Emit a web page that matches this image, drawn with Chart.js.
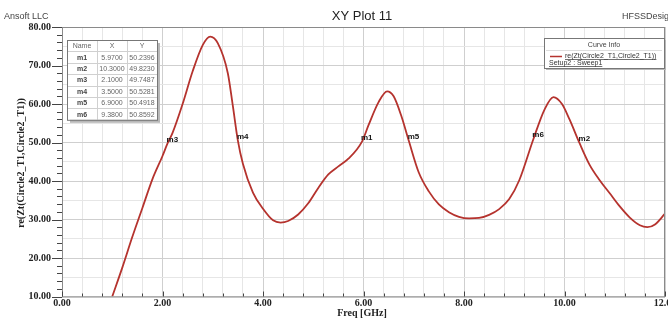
<!DOCTYPE html>
<html>
<head>
<meta charset="utf-8">
<script src="https://cdn.jsdelivr.net/npm/chart.js@4/dist/chart.umd.min.js"></script>
<style>
  html, body { margin: 0; padding: 0; background: #fff; }
  #wrap { width: 668px; height: 320px; }
</style>
</head>
<body>
<div id="wrap"><canvas id="plot" width="668" height="320"></canvas></div>
<script>
// curve re(Zt(Circle2_T1,Circle2_T1))
const freq = [1.0, 1.2, 1.4, 1.6, 1.8, 2.0, 2.1, 2.2, 2.4, 2.6, 2.8, 2.95, 3.1, 3.3, 3.4, 3.5, 3.6, 3.8, 4.0, 4.2, 4.35,
              4.5, 4.7, 4.9, 5.1, 5.3, 5.5, 5.7, 5.97, 6.1, 6.3, 6.47, 6.6, 6.75, 6.9, 7.1, 7.3, 7.5, 7.7, 7.9,
              8.1, 8.3, 8.5, 8.7, 8.9, 9.1, 9.38, 9.6, 9.78, 9.95, 10.1, 10.3, 10.5, 10.7, 10.9, 11.1, 11.3,
              11.5, 11.65, 11.8, 12.0];
const reZ = [10.0, 17.5, 25.5, 33.0, 40.5, 46.5, 49.75, 52.5, 60.0, 68.5, 75.3, 77.5, 75.8, 68.0, 59.5, 50.5, 44.5, 37.0, 32.8, 29.8, 29.2,
             29.6, 31.3, 34.2, 38.2, 41.7, 43.8, 45.8, 50.24, 54.5, 60.5, 63.3, 62.0, 57.0, 50.5, 42.2, 37.3, 33.9, 31.9, 30.7,
             30.3, 30.4, 31.2, 32.7, 35.3, 40.2, 50.86, 58.5, 61.8, 60.0, 56.0, 49.82, 44.2, 40.2, 36.8, 33.4, 30.5,
             28.5, 28.0, 28.7, 31.5];

// markers
const markerNames = ['m1', 'm2', 'm3', 'm4', 'm5', 'm6'];
const markerFreq = [5.97, 10.3, 2.1, 3.5, 6.9, 9.38];
const markerValue = [50.2396, 49.8230, 49.7487, 50.5281, 50.4918, 50.8592];

const yTickLabels = [10, 20, 30, 40, 50, 60, 70, 80];
const xTickLabels = [0, 2, 4, 6, 8, 10, 12];

const serif = '"Liberation Serif", "Times New Roman", serif';
const sans = '"Liberation Sans", Arial, sans-serif';

function isMult(v, m) {
    return Math.abs(v / m - Math.round(v / m)) < 1e-6;
}

const decor = {
    id: 'decor',
    beforeDraw(chart) {
        const c = chart.ctx;
        c.save();
        c.fillStyle = '#fff';
        c.fillRect(0, 0, chart.width, chart.height);
        c.restore();
    },
    afterDraw(chart) {
        const c = chart.ctx;
        const a = chart.chartArea;
        const xs = chart.scales.x, ys = chart.scales.y;
        c.save();

        // plot frame
        c.strokeStyle = '#8a8a8a';
        c.lineWidth = 1;
        c.strokeRect(a.left + 0.5, a.top + 0.5, a.right - a.left - 1, a.bottom - a.top);

        // axis ticks
        c.strokeStyle = '#444';
        c.beginPath();
        for (let v = 10; v <= 80.001; v += 2) {
            const y = Math.round(ys.getPixelForValue(v)) + 0.5;
            const len = isMult(v, 10) ? 10 : 5;
            c.moveTo(a.left - len, y);
            c.lineTo(a.left, y);
        }
        for (let i = 0; i <= 30; i++) {
            const v = i * 0.4;
            const x = Math.round(xs.getPixelForValue(v)) + 0.5;
            const len = isMult(v, 2) ? 5 : 3;
            c.moveTo(x, a.bottom);
            c.lineTo(x, a.bottom - len);
        }
        c.stroke();

        // x tick labels
        c.fillStyle = '#222';
        c.font = 'bold 10px ' + serif;
        c.textAlign = 'center';
        c.textBaseline = 'middle';
        xTickLabels.forEach(v => {
            c.fillText(v.toFixed(2), xs.getPixelForValue(v), 303);
        });
        c.fillText('Freq [GHz]', 362, 313);

        // y title
        c.save();
        c.translate(21, 163);
        c.rotate(-Math.PI / 2);
        c.fillText('re(Zt(Circle2_T1,Circle2_T1))', 0, 0);
        c.restore();

        // header texts
        c.font = '9px ' + sans;
        c.fillStyle = '#444';
        c.textAlign = 'left';
        c.fillText('Ansoft LLC', 4, 17);
        c.fillText('HFSSDesign1', 622, 17);
        c.font = '13px ' + sans;
        c.fillStyle = '#222';
        c.textAlign = 'center';
        c.fillText('XY Plot 11', 362, 16);

        // marker labels on the curve
        c.font = 'bold 8px ' + sans;
        c.fillStyle = '#111';
        c.textAlign = 'left';
        markerNames.forEach((n, i) => {
            const x = xs.getPixelForValue(markerFreq[i]);
            const y = ys.getPixelForValue(markerValue[i]);
            c.fillText(n, x - 1, y - 4);
        });

        // marker table
        const tx = 67, ty = 40, cw = [30, 30, 30], rh = 11.4;
        const tw = cw[0] + cw[1] + cw[2], th = rh * 7;
        c.fillStyle = '#b8b8b8';
        c.fillRect(tx + 3, ty + 3, tw, th);
        c.fillStyle = '#fff';
        c.fillRect(tx, ty, tw, th);
        c.strokeStyle = '#d0d0d0';
        c.beginPath();
        for (let r = 1; r < 7; r++) {
            c.moveTo(tx, Math.round(ty + r * rh) + 0.5);
            c.lineTo(tx + tw, Math.round(ty + r * rh) + 0.5);
        }
        c.moveTo(tx + cw[0] + 0.5, ty);
        c.lineTo(tx + cw[0] + 0.5, ty + th);
        c.moveTo(tx + cw[0] + cw[1] + 0.5, ty);
        c.lineTo(tx + cw[0] + cw[1] + 0.5, ty + th);
        c.stroke();
        c.strokeStyle = '#777';
        c.strokeRect(tx + 0.5, ty + 0.5, tw, th);

        c.textAlign = 'center';
        c.font = '7px ' + sans;
        c.fillStyle = '#666';
        c.fillText('Name', tx + cw[0] / 2, ty + rh / 2 + 0.5);
        c.fillText('X', tx + cw[0] + cw[1] / 2, ty + rh / 2 + 0.5);
        c.fillText('Y', tx + cw[0] + cw[1] + cw[2] / 2, ty + rh / 2 + 0.5);
        markerNames.forEach((n, i) => {
            const cy = ty + (i + 1.5) * rh + 0.5;
            c.font = 'bold 7px ' + sans;
            c.fillStyle = '#444';
            c.fillText(n, tx + cw[0] / 2, cy);
            c.font = '7px ' + sans;
            c.fillStyle = '#666';
            c.fillText(markerFreq[i].toFixed(4), tx + cw[0] + cw[1] / 2, cy);
            c.fillText(markerValue[i].toFixed(4), tx + cw[0] + cw[1] + cw[2] / 2, cy);
        });

        // curve info box
        const lx = 544, ly = 38, lw = 120, lh = 30;
        c.fillStyle = '#b8b8b8';
        c.fillRect(lx + 2, ly + 2, lw, lh);
        c.fillStyle = '#fff';
        c.fillRect(lx, ly, lw, lh);
        c.strokeStyle = '#777';
        c.strokeRect(lx + 0.5, ly + 0.5, lw, lh);
        c.strokeStyle = '#ddd';
        c.beginPath();
        c.moveTo(lx + 2, ly + 12.5);
        c.lineTo(lx + lw - 2, ly + 12.5);
        c.stroke();
        c.font = '7px ' + sans;
        c.fillStyle = '#444';
        c.textAlign = 'center';
        c.fillText('Curve Info', lx + lw / 2, ly + 7);
        c.strokeStyle = '#b5332e';
        c.lineWidth = 1.5;
        c.beginPath();
        c.moveTo(550, ly + 18.5);
        c.lineTo(562, ly + 18.5);
        c.stroke();
        c.textAlign = 'left';
        c.fillStyle = '#333';
        const t1 = 're(Zt(Circle2_T1,Circle2_T1))';
        const t2 = 'Setup2 : Sweep1';
        c.fillText(t1, 565, ly + 18);
        c.fillText(t2, 549, ly + 25);
        c.strokeStyle = '#333';
        c.lineWidth = 0.7;
        c.beginPath();
        c.moveTo(565, ly + 21.5);
        c.lineTo(565 + c.measureText(t1).width, ly + 21.5);
        c.moveTo(549, ly + 28.5);
        c.lineTo(549 + c.measureText(t2).width, ly + 28.5);
        c.stroke();

        c.restore();
    }
};

new Chart(document.getElementById('plot'), {
    type: 'line',
    plugins: [decor],
    data: {
        datasets: [{
            label: 're(Zt(Circle2_T1,Circle2_T1))',
            data: freq.map((f, i) => ({ x: f, y: reZ[i] })),
            borderColor: '#b5332e',
            borderWidth: 1.8,
            pointRadius: 0,
            cubicInterpolationMode: 'monotone',
            fill: false
        }, {
            label: 'markers',
            data: markerFreq.map((f, i) => ({ x: f, y: markerValue[i] })),
            showLine: false,
            pointRadius: 0
        }]
    },
    options: {
        responsive: false,
        animation: false,
        layout: { padding: { top: 27, right: 3, left: 0, bottom: 0 } },
        plugins: {
            legend: { display: false },
            title: { display: false },
            tooltip: { enabled: false }
        },
        scales: {
            x: {
                type: 'linear',
                min: 0,
                max: 12,
                afterFit: s => { s.height = 23.5; },
                ticks: { display: false, stepSize: 0.4 },
                border: { display: false },
                grid: {
                    drawTicks: false,
                    color: ctx => isMult(ctx.tick.value, 2) ? '#cfcfcf' : '#e6e6e6'
                }
            },
            y: {
                min: 10,
                max: 80,
                afterFit: s => { s.width = 62; },
                ticks: {
                    stepSize: 5,
                    padding: 11,
                    color: '#222',
                    font: { family: serif, size: 10, weight: 'bold' },
                    callback: v => yTickLabels.includes(v) ? v.toFixed(2) : ''
                },
                border: { display: false },
                grid: {
                    drawTicks: false,
                    color: ctx => isMult(ctx.tick.value, 10) ? '#cfcfcf' : '#e6e6e6'
                }
            }
        }
    }
});
</script>
</body>
</html>
